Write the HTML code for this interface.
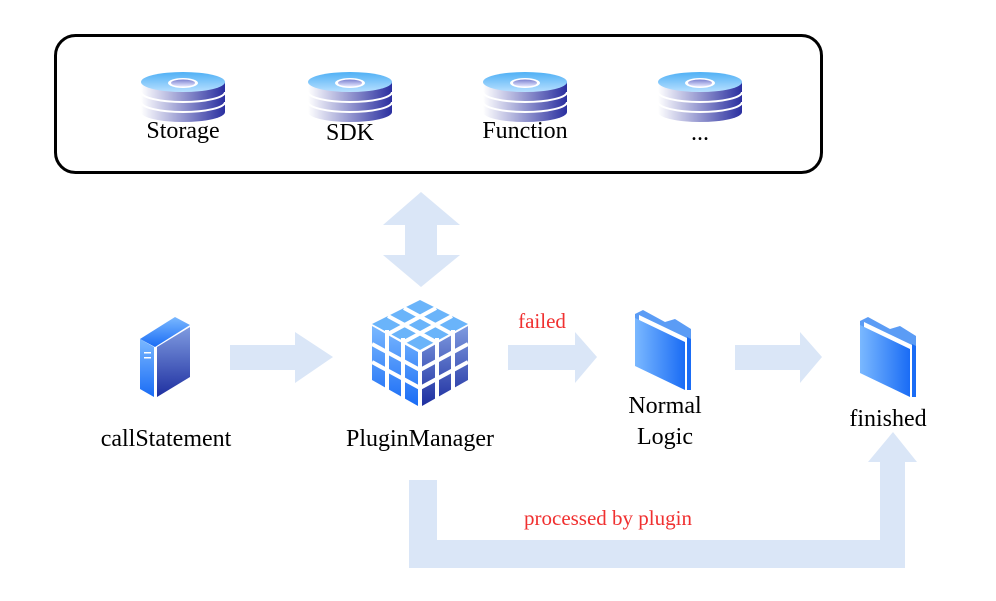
<!DOCTYPE html>
<html><head><meta charset="utf-8"><style>
body{margin:0;background:#fff;}
svg{display:block;}
text{font-family:"Liberation Serif",serif;font-size:24px;fill:#000;}
</style></head><body>
<svg width="996" height="601" viewBox="0 0 996 601" xmlns="http://www.w3.org/2000/svg">
<defs>
<linearGradient id="dside" x1="0" x2="1" y1="0" y2="0"><stop offset="0" stop-color="#ffffff"/><stop offset="1" stop-color="#2a2fa0"/></linearGradient>
<linearGradient id="dtop" x1="0" x2="0" y1="0" y2="1"><stop offset="0" stop-color="#4fb0f5"/><stop offset="1" stop-color="#b8e0ff"/></linearGradient>
<linearGradient id="hole" x1="0" x2="0" y1="0" y2="1"><stop offset="0" stop-color="#7a80d0"/><stop offset="1" stop-color="#e6e8ff"/></linearGradient>
<linearGradient id="blueL" x1="0" x2="0" y1="0" y2="1"><stop offset="0" stop-color="#7ab8ff"/><stop offset="1" stop-color="#1a6cf5"/></linearGradient>
<linearGradient id="blueR" x1="0" x2="0" y1="0" y2="1"><stop offset="0" stop-color="#7f9be0"/><stop offset="1" stop-color="#1e2fa0"/></linearGradient>
<linearGradient id="folder" x1="0" x2="1" y1="0" y2="0"><stop offset="0" stop-color="#7ab8ff"/><stop offset="1" stop-color="#1a6cf5"/></linearGradient>
<g id="disk">
<path d="M-42,-6 v30 a42,10 0 0 0 84,0 v-30 z" fill="url(#dside)"/>
<path d="M-42,4 a42,10 0 0 0 84,0" fill="none" stroke="#fff" stroke-width="2"/>
<path d="M-42,14 a42,10 0 0 0 84,0" fill="none" stroke="#fff" stroke-width="2"/>
<ellipse cx="0" cy="-6" rx="42" ry="10" fill="url(#dtop)"/>
<ellipse cx="0" cy="-5" rx="15" ry="5" fill="#fff"/>
<ellipse cx="0" cy="-5" rx="12" ry="3.5" fill="url(#hole)"/>
</g>
<g id="fold">
<polygon points="8,0 30,12 40,9 56,19 56,78 0,52 0,4" fill="#5b9cf5"/>
<polygon points="4,5 52,28 52,80 4,58" fill="#fff"/>
<polygon points="0,8 50,32 50,80 0,56" fill="url(#folder)"/>
<polygon points="52,27 56,29 56,80 52,80" fill="#1a6cf5"/>
</g>
</defs>
<rect x="55.5" y="35.5" width="766" height="137" rx="20" fill="#fff" stroke="#000" stroke-width="3"/>
<use href="#disk" x="183" y="88"/>
<use href="#disk" x="350" y="88"/>
<use href="#disk" x="525" y="88"/>
<use href="#disk" x="700" y="88"/>
<text x="183" y="138" text-anchor="middle">Storage</text>
<text x="350" y="140" text-anchor="middle">SDK</text>
<text x="525" y="138" text-anchor="middle">Function</text>
<text x="700" y="140" text-anchor="middle">...</text>
<g fill="#dae6f7">
<polygon points="421,192 460,225 437,225 437,255 460,255 421,287 383,255 405,255 405,225 383,225"/>
<polygon points="230,345 295,345 295,332 333,357 295,383 295,370 230,370"/>
<polygon points="508,345 575,345 575,332 597,357 575,383 575,370 508,370"/>
<polygon points="735,345 800,345 800,332 822,357 800,383 800,370 735,370"/>
<polygon points="409,480 437,480 437,540 880,540 880,462 868,462 893,432 917,462 905,462 905,568 409,568"/>
</g>
<g transform="translate(140,317)">
<polygon points="0,22 35,0 50,8 15,30" fill="url(#blueL)"/>
<polygon points="0,22 14,30 14,80 0,72" fill="url(#blueL)"/>
<polygon points="17,30 50,10 50,60 17,80" fill="url(#blueR)"/>
<rect x="4" y="35" width="7" height="1.5" fill="#fff"/>
<rect x="4" y="40" width="7" height="1.5" fill="#fff"/>
</g>
<g transform="translate(420,300)">
<polygon points="0,0 48,24 0,50 -48,24" fill="#6ab4fa"/>
<g stroke="#fff" stroke-width="4">
<line x1="-16" y1="8" x2="32" y2="34"/><line x1="-32" y1="16" x2="16" y2="42"/>
<line x1="16" y1="8" x2="-32" y2="34"/><line x1="32" y1="16" x2="-16" y2="42"/>
</g>
<polygon points="-48,26 -2,52 -2,106 -48,80" fill="url(#blueL)"/>
<polygon points="2,52 48,26 48,80 2,106" fill="url(#blueR)"/>
<g stroke="#fff" stroke-width="4">
<line x1="-48" y1="44" x2="0" y2="70"/><line x1="-48" y1="62" x2="0" y2="88"/>
<line x1="-33" y1="30" x2="-33" y2="92"/><line x1="-17" y1="38" x2="-17" y2="100"/>
<line x1="0" y1="70" x2="48" y2="44"/><line x1="0" y1="88" x2="48" y2="62"/>
<line x1="17" y1="38" x2="17" y2="100"/><line x1="33" y1="30" x2="33" y2="92"/>
</g>
</g>
<use href="#fold" x="635" y="310"/>
<use href="#fold" x="860" y="317"/>
<text x="166" y="446" text-anchor="middle">callStatement</text>
<text x="420" y="446" text-anchor="middle">PluginManager</text>
<text x="665" y="413" text-anchor="middle">Normal</text>
<text x="665" y="444" text-anchor="middle">Logic</text>
<text x="888" y="426" text-anchor="middle">finished</text>
<text x="542" y="328" text-anchor="middle" style="fill:#f03030;font-size:21px">failed</text>
<text x="608" y="525" text-anchor="middle" style="fill:#f03030;font-size:21px">processed by plugin</text>
</svg>
</body></html>
